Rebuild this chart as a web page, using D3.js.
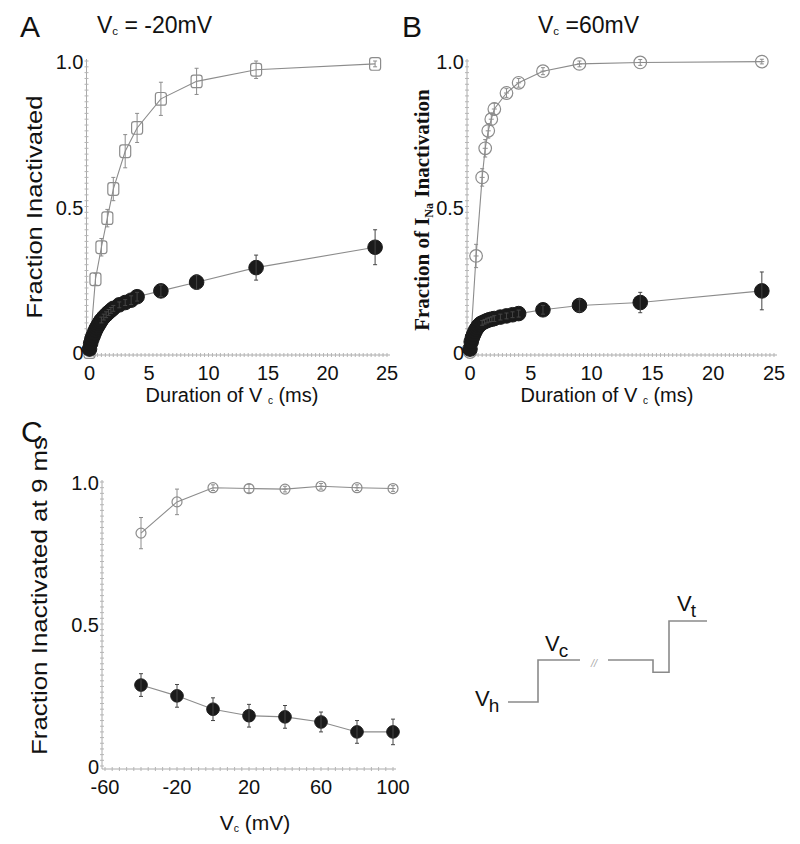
<!DOCTYPE html>
<html><head><meta charset="utf-8">
<script src="https://cdn.jsdelivr.net/npm/d3@7"></script>
<style>
html,body{margin:0;padding:0;background:#fff;}
svg{display:block;font-family:"Liberation Sans",Arial,sans-serif;}
</style></head>
<body>
<svg id="chart" width="800" height="844"></svg>
<script>
// ---------- DATA ----------
// Panel A : Vc = -20 mV
const aOpenX   = [0, 0.5, 1, 1.5, 2, 3, 4, 6, 9, 14, 24];
const aOpenY   = [0, 0.25, 0.36, 0.46, 0.56, 0.69, 0.77, 0.87, 0.93, 0.97, 0.99];
const aOpenErr = [0, 0.02, 0.03, 0.03, 0.04, 0.057, 0.05, 0.057, 0.045, 0.03, 0.01];
const aFillX   = [0, 0.1, 0.2, 0.3, 0.4, 0.5, 0.6, 0.7, 0.8, 0.9, 1, 1.2, 1.4, 1.6, 1.8, 2, 2.5, 3, 3.5, 4, 6, 9, 14, 24];
const aFillY   = [0.01, 0.03, 0.045, 0.055, 0.065, 0.075, 0.083, 0.09, 0.097, 0.104, 0.11, 0.12, 0.128, 0.136, 0.143, 0.15, 0.162, 0.17, 0.178, 0.19, 0.21, 0.24, 0.29, 0.36];
const aFillErr = [0, 0, 0, 0, 0, 0, 0, 0, 0, 0, 0.01, 0.01, 0.01, 0.01, 0.01, 0.01, 0.01, 0.01, 0.015, 0.015, 0.02, 0.025, 0.043, 0.06];
// Panel B : Vc = 60 mV
const bOpenX   = [0, 0.5, 1, 1.25, 1.5, 1.75, 2, 3, 4, 6, 9, 14, 24];
const bOpenY   = [0, 0.33, 0.60, 0.70, 0.76, 0.80, 0.835, 0.89, 0.925, 0.965, 0.99, 0.995, 0.998];
const bOpenErr = [0, 0.04, 0.03, 0.03, 0.025, 0.02, 0.02, 0.015, 0.015, 0.012, 0.01, 0.01, 0.008];
const bFillX   = [0, 0.1, 0.2, 0.3, 0.4, 0.5, 0.6, 0.7, 0.8, 0.9, 1, 1.2, 1.4, 1.6, 1.8, 2, 2.5, 3, 3.5, 4, 6, 9, 14, 24];
const bFillY   = [0.01, 0.035, 0.05, 0.06, 0.07, 0.078, 0.084, 0.09, 0.094, 0.098, 0.1, 0.104, 0.108, 0.111, 0.113, 0.115, 0.12, 0.124, 0.128, 0.132, 0.145, 0.16, 0.17, 0.21];
const bFillErr = [0, 0, 0, 0, 0, 0, 0, 0, 0, 0, 0.008, 0.008, 0.008, 0.008, 0.008, 0.01, 0.01, 0.01, 0.01, 0.012, 0.015, 0.02, 0.035, 0.065];
// Panel C : fraction inactivated at 9 ms vs Vc
const cVc      = [-40, -20, 0, 20, 40, 60, 80, 100];
const cOpenY   = [0.82, 0.93, 0.98, 0.977, 0.975, 0.985, 0.98, 0.977];
const cOpenErr = [0.055, 0.045, 0.01, 0.015, 0.01, 0.01, 0.01, 0.01];
const cFillY   = [0.285, 0.247, 0.20, 0.177, 0.173, 0.155, 0.12, 0.12];
const cFillErr = [0.04, 0.04, 0.04, 0.04, 0.04, 0.035, 0.04, 0.045];
// tick labels
const durTicks = [0, 5, 10, 15, 20, 25];
const fracTicks = [0, 0.5, 1.0];
const vcTicks = [-60, -20, 20, 60, 100];
// voltage protocol schematic (arbitrary time / voltage units)
const protoSegA = [[0, 0], [30, 0], [30, 1], [72, 1]];
const protoSegB = [[100, 1], [145, 1], [145, 0.71], [161, 0.71], [161, 1.93], [199, 1.93]];

// ---------- DRAW ----------
const svg = d3.select("#chart");
const fracFmt = d => d === 0 ? "0" : d3.format(".1f")(d);
const GRAY = "#8c8c8c";

function minorAxis(g, x, y, xMinor, yMinor) {
  const ax = g.append("g");
  const x0 = x.range()[0] - 3, y0 = y(0) + 3;
  ax.append("line").attr("x1", x0).attr("x2", x.range()[1] + 3).attr("y1", y0).attr("y2", y0)
    .attr("stroke", "#aaa").attr("stroke-width", 1);
  ax.selectAll(".xm").data(xMinor).join("line")
    .attr("x1", d => x(d)).attr("x2", d => x(d)).attr("y1", y0 - 2).attr("y2", y0 + 2)
    .attr("stroke", "#b5b5b5").attr("stroke-width", 1);
  ax.append("line").attr("x1", x0).attr("x2", x0).attr("y1", y0).attr("y2", y.range()[1] - 2)
    .attr("stroke", "#aaa").attr("stroke-width", 1);
  ax.selectAll(".ym").data(yMinor).join("line")
    .attr("x1", x0 - 2).attr("x2", x0 + 2).attr("y1", d => y(d)).attr("y2", d => y(d))
    .attr("stroke", "#b5b5b5").attr("stroke-width", 1);
  return {x0, y0};
}

function tickLabels(g, x, y, xt, yt, x0, y0, xFmt) {
  g.selectAll(".xt").data(xt).join("text")
    .attr("x", d => x(d)).attr("y", y0 + 25).attr("text-anchor", "middle")
    .attr("font-size", 20).attr("fill", "#111").text(xFmt);
  g.selectAll(".yt").data(yt).join("text")
    .attr("x", x0 - 3).attr("y", d => y(d) + 8).attr("text-anchor", "end")
    .attr("font-size", 20).attr("fill", "#111").text(fracFmt);
}

function series(g, x, y, xs, ys, errs, kind, r) {
  const pts = xs.map((d, i) => ({x: d, y: ys[i], e: errs[i]}));
  const line = d3.line().x(d => x(d.x)).y(d => y(d.y));
  g.append("path").datum(pts).attr("d", line).attr("fill", "none")
    .attr("stroke", GRAY).attr("stroke-width", 1.1);
  const open = kind !== "filled";
  const m = g.append("g");
  if (kind === "square") {
    m.selectAll("rect").data(pts).join("rect")
      .attr("x", d => x(d.x) - r).attr("y", d => y(d.y) - r * 1.15)
      .attr("width", 2 * r).attr("height", 2.3 * r).attr("rx", 2.5)
      .attr("fill", "none").attr("stroke", GRAY).attr("stroke-width", 1.2);
  } else {
    m.selectAll("circle").data(pts).join("circle")
      .attr("cx", d => x(d.x)).attr("cy", d => y(d.y)).attr("r", r)
      .attr("fill", open ? "none" : "#1a1a1a")
      .attr("stroke", open ? GRAY : "#1a1a1a").attr("stroke-width", open ? 1.2 : 1);
  }
  const eb = g.append("g").attr("stroke", open ? GRAY : "#444").attr("stroke-width", 1);
  const withE = pts.filter(d => d.e > 0);
  eb.selectAll(".v").data(withE).join("line")
    .attr("x1", d => x(d.x)).attr("x2", d => x(d.x))
    .attr("y1", d => y(d.y - d.e)).attr("y2", d => y(d.y + d.e));
  eb.selectAll(".t").data(withE).join("line")
    .attr("x1", d => x(d.x) - 2).attr("x2", d => x(d.x) + 2)
    .attr("y1", d => y(d.y + d.e)).attr("y2", d => y(d.y + d.e));
  eb.selectAll(".b").data(withE).join("line")
    .attr("x1", d => x(d.x) - 2).attr("x2", d => x(d.x) + 2)
    .attr("y1", d => y(d.y - d.e)).attr("y2", d => y(d.y - d.e));
  if (kind === "cross") {
    eb.selectAll(".h").data(pts.filter(d => d.x > 0)).join("line")
      .attr("x1", d => x(d.x) - 2.5).attr("x2", d => x(d.x) + 2.5)
      .attr("y1", d => y(d.y)).attr("y2", d => y(d.y));
  }
}

function vcLabel(g, x, y, before, after, size, anchor) {
  const t = g.append("text").attr("x", x).attr("y", y).attr("font-size", size)
    .attr("fill", "#111").attr("text-anchor", anchor || "start");
  t.append("tspan").text(before);
  t.append("tspan").attr("font-size", size * 0.5).attr("dy", size * 0.08).text("c");
  t.append("tspan").attr("dy", -size * 0.08).text(after);
  return t;
}

// ---- Panel A ----
{
  const g = svg.append("g");
  const x = d3.scaleLinear().domain([0, 25]).range([89.5, 387]);
  const y = d3.scaleLinear().domain([0, 1]).range([352, 61]);
  const {x0, y0} = minorAxis(g, x, y, d3.range(0, 25.001, 25 / 75), d3.range(0, 1.0001, 0.02));
  series(g, x, y, aOpenX, aOpenY, aOpenErr, "square", 5.5);
  series(g, x, y, aFillX, aFillY, aFillErr, "filled", 7.3);
  tickLabels(g, x, y, durTicks, fracTicks, x0, y0, d => d);
  g.append("text").attr("x", 20).attr("y", 37).attr("font-size", 30).attr("fill", "#111").text("A");
  vcLabel(g, 97, 33, "V", " = -20mV", 23);
  vcLabel(g, 232, 402, "Duration of V ", " (ms)", 20, "middle");
  g.append("text").attr("transform", "translate(42,207) rotate(-90)").attr("text-anchor", "middle")
    .attr("font-size", 22).attr("fill", "#111")
    .attr("textLength", 223).attr("lengthAdjust", "spacingAndGlyphs").text("Fraction Inactivated");
}

// ---- Panel B ----
{
  const g = svg.append("g");
  const x = d3.scaleLinear().domain([0, 25]).range([470, 774]);
  const y = d3.scaleLinear().domain([0, 1]).range([352, 61]);
  const {x0, y0} = minorAxis(g, x, y, d3.range(0, 25.001, 25 / 75), d3.range(0, 1.0001, 0.02));
  series(g, x, y, bOpenX, bOpenY, bOpenErr, "cross", 6.3);
  series(g, x, y, bFillX, bFillY, bFillErr, "filled", 7.3);
  tickLabels(g, x, y, durTicks, fracTicks, x0, y0, d => d);
  g.append("text").attr("x", 402).attr("y", 37).attr("font-size", 30).attr("fill", "#111").text("B");
  vcLabel(g, 538, 33, "V", " =60mV", 23);
  vcLabel(g, 607, 402, "Duration of V ", " (ms)", 20, "middle");
  const t = g.append("text").attr("transform", "translate(429,210) rotate(-90)").attr("text-anchor", "middle")
    .attr("font-family", "'Liberation Serif','Times New Roman',serif").attr("font-weight", "bold")
    .attr("font-size", 21).attr("fill", "#111");
  t.append("tspan").text("Fraction of I");
  t.append("tspan").attr("font-size", 12).attr("dy", 4).text("Na");
  t.append("tspan").attr("dy", -4).text(" Inactivation");
}

// ---- Panel C ----
{
  const g = svg.append("g");
  const x = d3.scaleLinear().domain([-60, 100]).range([105, 393]);
  const y = d3.scaleLinear().domain([0, 1]).range([766, 482]);
  const {x0, y0} = minorAxis(g, x, y, d3.range(-60, 100.001, 4), d3.range(0, 1.0001, 0.02));
  series(g, x, y, cVc, cOpenY, cOpenErr, "cross", 5);
  series(g, x, y, cVc, cFillY, cFillErr, "filled", 6.3);
  tickLabels(g, x, y, vcTicks, fracTicks, x0, y0, d => d);
  g.append("text").attr("x", 21).attr("y", 442).attr("font-size", 30).attr("fill", "#111").text("C");
  vcLabel(g, 255, 830, "V", " (mV)", 21, "middle");
  g.append("text").attr("transform", "translate(47,596) rotate(-90)").attr("text-anchor", "middle")
    .attr("font-size", 22).attr("fill", "#111")
    .attr("textLength", 318).attr("lengthAdjust", "spacingAndGlyphs").text("Fraction Inactivated at 9 ms");
}

// ---- Protocol schematic ----
{
  const g = svg.append("g");
  const t = d3.scaleLinear().domain([0, 200]).range([508, 708]);
  const v = d3.scaleLinear().domain([0, 1]).range([702, 660]);
  const ln = d3.line().x(d => t(d[0])).y(d => v(d[1]));
  [protoSegA, protoSegB].forEach(s => g.append("path").attr("d", ln(s)).attr("fill", "none")
    .attr("stroke", "#8a8a8a").attr("stroke-width", 1.6));
  g.append("text").attr("x", t(86)).attr("y", v(1) + 7).attr("text-anchor", "middle")
    .attr("font-size", 11).attr("fill", "#aaa").attr("font-style", "italic").text("//");
  const lab = (x0, y0, sub) => {
    const tx = g.append("text").attr("x", x0).attr("y", y0).attr("font-size", 22).attr("fill", "#111");
    tx.append("tspan").text("V");
    tx.append("tspan").attr("font-size", 19).attr("dy", 6).attr("dx", -1).text(sub);
  };
  lab(t(-33), v(0) + 4, "h");
  lab(t(37), v(1) - 9, "c");
  lab(t(169), v(1.93) - 10, "t");
}
</script>
</body></html>
